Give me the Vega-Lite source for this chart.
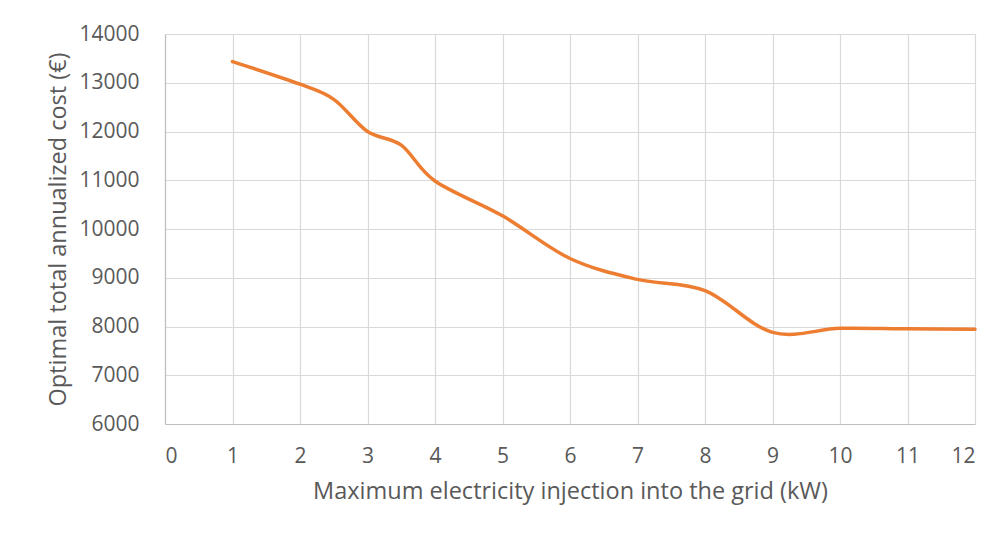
{
  "$schema": "https://vega.github.io/schema/vega-lite/v6.json",
  "autosize": {"type": "none"},
  "width": 810,
  "height": 390,
  "padding": {"left": 165, "top": 34, "right": 28, "bottom": 116},
  "background": "white",
  "config": {
    "view": {"stroke": null},
    "font": "Open Sans"
  },
  "data": {
    "values": [
      {"x": 1, "cost": 13435},
      {"x": 2, "cost": 12970},
      {"x": 2.5, "cost": 12660},
      {"x": 3, "cost": 12000},
      {"x": 3.5, "cost": 11720},
      {"x": 4, "cost": 10985},
      {"x": 5, "cost": 10270},
      {"x": 6, "cost": 9395},
      {"x": 7, "cost": 8966},
      {"x": 8, "cost": 8735},
      {"x": 9, "cost": 7880},
      {"x": 10, "cost": 7962},
      {"x": 11, "cost": 7952},
      {"x": 12, "cost": 7945}
    ]
  },
  "mark": {"type": "line", "color": "#ED7D31", "strokeWidth": 3.5, "interpolate": "cardinal", "tension": 0, "strokeCap": "round"},
  "encoding": {
    "x": {
      "field": "x",
      "type": "quantitative",
      "scale": {"domain": [0, 12], "nice": false, "zero": false},
      "axis": {
        "title": "Maximum electricity injection into the grid (kW)",
        "values": [0,1,2,3,4,5,6,7,8,9,10,11,12],
        "format": "d",
        "grid": true,
        "gridColor": "#D9D9D9",
        "gridWidth": 1.2,
        "domainColor": "#BFBFBF",
        "domainWidth": 1.2,
        "ticks": false,
        "labelPadding": 21,
        "labelFontSize": 21,
        "labelColor": "#595959",
        "titleFontSize": 23.5,
        "titleFontWeight": "normal",
        "titleColor": "#595959",
        "titlePadding": 13
      }
    },
    "y": {
      "field": "cost",
      "type": "quantitative",
      "scale": {"domain": [6000, 14000], "nice": false, "zero": false},
      "axis": {
        "title": "Optimal total annualized cost (€)",
        "values": [6000,7000,8000,9000,10000,11000,12000,13000,14000],
        "format": "d",
        "grid": true,
        "gridColor": "#D9D9D9",
        "gridWidth": 1.2,
        "domainColor": "#BFBFBF",
        "domainWidth": 1.2,
        "ticks": false,
        "labelPadding": 26,
        "labelFontSize": 21,
        "labelColor": "#595959",
        "titleFontSize": 23.5,
        "titleFontWeight": "normal",
        "titleColor": "#595959",
        "titlePadding": 8
      }
    }
  }
}
